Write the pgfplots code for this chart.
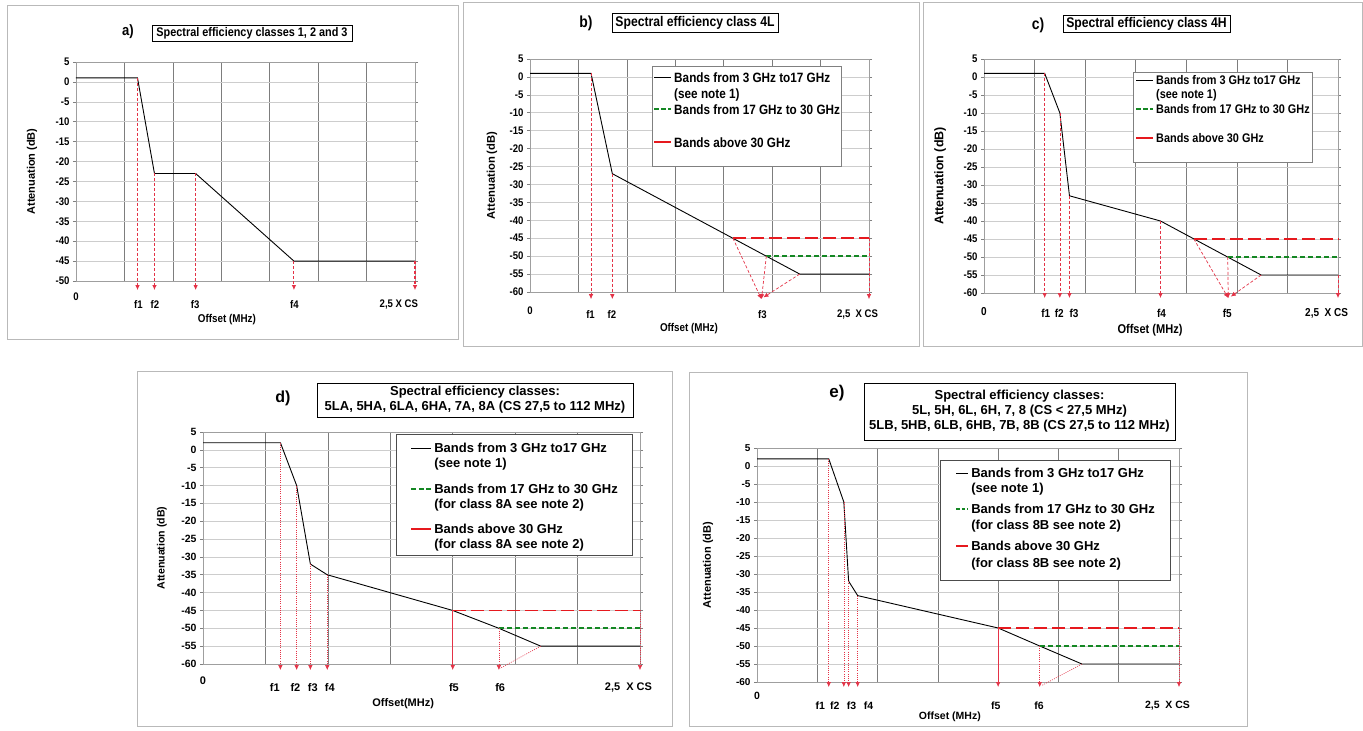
\documentclass[border=0pt]{standalone}
\usepackage{fontspec}
\setmainfont{Liberation Sans}
\newfontfamily\condf[FakeStretch=0.87]{Liberation Sans}
\usepackage{pgfplots}
\pgfplotsset{compat=1.18}
\usetikzlibrary{arrows.meta,shadows}

\definecolor{arrred}{RGB}{228,50,70}
\definecolor{lred}{RGB}{230,25,30}
\definecolor{lgreen}{RGB}{20,135,35}
\definecolor{vgrid}{RGB}{125,125,125}
\definecolor{hgrid}{RGB}{205,205,205}
\definecolor{frm}{RGB}{185,185,185}

\newcommand\limg[3]{\addlegendimage{legend image code/.code={\draw[#1] (0pt,#2)--(#3,#2);}}}
\newcommand\vsp[2]{\rule[-#2pt]{0pt}{\dimexpr#1pt+#2pt\relax}}

\pgfplotsset{
 panel/.style={scale only axis, clip=false, anchor=south west, xmin=0, xmax=7, ymax=5,
  axis line style={draw=gray!75, line width=0.6pt},
  minor xtick={1,2,3,4,5,6}, xminorgrids=true,
  minor x grid style={vgrid, line width=0.6pt},
  ymajorgrids=true, major y grid style={hgrid, line width=0.6pt},
  xtick style={draw=none}, minor tick length=0pt,
  ytick style={draw=gray, line width=0.6pt},
  tick align=outside, major tick length=3pt,
  /pgf/number format/assume math mode=true,
  xlabel style={anchor=center}, ylabel style={anchor=center},
  legend style={anchor=north west, fill=white, row sep=0pt, column sep=2pt, inner ysep=2pt,
    cells={anchor=base west}, nodes={inner sep=0pt, text depth=}},
 },
 curve/.style={black, line width=0.9pt},
 redh/.style={lred, line width=1.8pt, dash pattern=on 13pt off 5pt},
 greenh/.style={lgreen, line width=1.8pt, dash pattern=on 5pt off 3pt},
 arrA/.style={arrred, line width=1.1pt, dash pattern=on 3pt off 2pt, -{Latex[length=5pt,width=4.5pt]}},
 arrB/.style={arrred, line width=0.7pt, dash pattern=on 3pt off 2pt, -{Latex[length=5pt,width=4.5pt]}},
 arrD/.style={arrred, line width=0.6pt, dash pattern=on 1pt off 1.2pt, -{Latex[length=5pt,width=4.5pt]}},
 arrS/.style={arrred, line width=0.7pt, -{Latex[length=5pt,width=4.5pt]}},
}

\begin{document}
\begin{tikzpicture}[x=1pt,y=1pt]
\useasboundingbox (0,0) rectangle (1363,731);
\fill[white] (0,0) rectangle (1363,731);
% panel frames
\draw[frm, line width=1pt] (7,391) rectangle (458,725);
\draw[frm, line width=1pt] (463,384) rectangle (919,728);
\draw[frm, line width=1pt] (923,384) rectangle (1362,728);
\draw[frm, line width=1pt] (137,4) rectangle (672,359);
\draw[frm, line width=1pt] (689,4) rectangle (1247,358);

% ---------------- a)
\begin{axis}[panel, at={(76pt,450pt)}, width=339pt, height=219pt,
 ymin=-50, ytick={-50,-45,...,5},
 yticklabel style={font=\condf\bfseries\fontsize{11}{11}\selectfont},
 xtick={1.29,1.63,2.46,4.51,7},
 xticklabels={f1,f2,f3,f4,{\makebox[0pt][r]{2,5 X CS\kern-3pt}}},
 xticklabel style={anchor=center, yshift=-21pt, font=\condf\bfseries\fontsize{11}{11}\selectfont},
 extra x ticks={0}, extra x tick labels={0}, extra x tick style={xticklabel style={yshift=8pt}},
 xlabel={Offset (MHz)}, ylabel={Attenuation (dB)},
 xlabel style={at={(axis description cs:0.445,-0.174)}, font=\condf\bfseries\fontsize{11.3}{12}\selectfont},
 ylabel style={at={(axis description cs:-0.13,0.5)}, font=\bfseries\fontsize{11}{11}\selectfont},
]
\addplot[curve] coordinates {(0,1)(1.27,1)(1.62,-23)(2.47,-23)(4.5,-45)(7,-45)};
\addplot[arrA] coordinates {(1.27,1)(1.27,-52.3)};
\addplot[arrA] coordinates {(1.62,-23)(1.62,-52.3)};
\addplot[arrA] coordinates {(2.47,-23)(2.47,-52.3)};
\addplot[arrA] coordinates {(4.5,-45)(4.5,-52.3)};
\addplot[arrA] coordinates {(7,-45)(7,-52.3)};
\end{axis}

% ---------------- b)
\begin{axis}[panel, at={(530pt,439pt)}, width=339pt, height=233pt,
 ymin=-60, ytick={-60,-55,...,5},
 yticklabel style={font=\condf\bfseries\fontsize{11}{11}\selectfont},
 xtick={1.25,1.69,4.80,7},
 xticklabels={f1,f2,f3,{\makebox[0pt][r]{2,5\ \ X CS\kern-9pt}}},
 xticklabel style={anchor=center, yshift=-20pt, font=\condf\bfseries\fontsize{11}{11}\selectfont},
 extra x ticks={0}, extra x tick labels={0}, extra x tick style={xticklabel style={yshift=4pt}},
 xlabel={Offset (MHz)}, ylabel={Attenuation (dB)},
 xlabel style={at={(axis description cs:0.469,-0.159)}, font=\condf\bfseries\fontsize{11.3}{12}\selectfont},
 ylabel style={at={(axis description cs:-0.112,0.5)}, font=\bfseries\fontsize{11.2}{11}\selectfont},
 legend style={at={(axis description cs:0.360,0.970)}, draw=gray, inner xsep=1pt,
   font=\condf\bfseries\fontsize{13.5}{16}\selectfont},
]
\limg{black,line width=0.8pt}{4.8pt}{17pt}
\addlegendentry{\vsp{14}{3}Bands from 3 GHz to17 GHz}
\addlegendimage{empty legend}
\addlegendentry{\vsp{13}{3}(see note 1)}
\limg{lgreen,line width=2pt,dash pattern=on 4.5pt off 2.5pt}{4.8pt}{17pt}
\addlegendentry{\vsp{13}{3}Bands from 17 GHz to 30 GHz}
\limg{lred,line width=2pt}{4.8pt}{17pt}
\addlegendentry{\vsp{30}{17}Bands above 30 GHz}
\addplot[curve] coordinates {(0,1)(1.26,1)(1.70,-27)(5.57,-55)(7,-55)};
\addplot[redh] coordinates {(4.19,-45)(7,-45)};
\addplot[greenh] coordinates {(4.88,-50)(7,-50)};
\addplot[arrB] coordinates {(1.26,1)(1.26,-62)};
\addplot[arrB] coordinates {(1.70,-27)(1.70,-62)};
\addplot[arrB] coordinates {(4.19,-45)(4.78,-62)};
\addplot[arrB] coordinates {(4.88,-50)(4.78,-62)};
\addplot[arrB] coordinates {(5.57,-55)(4.82,-61.5)};
\addplot[arrB] coordinates {(7,-45)(7,-62)};
\end{axis}

% ---------------- c)
\begin{axis}[panel, at={(984pt,438pt)}, width=354pt, height=234pt,
 ymin=-60, ytick={-60,-55,...,5},
 yticklabel style={font=\condf\bfseries\fontsize{11}{11}\selectfont},
 xtick={1.22,1.49,1.78,3.51,4.81,7},
 xticklabels={f1,f2,f3,f4,f5,{\makebox[0pt][r]{2,5\ \ X CS\kern-10pt}}},
 xticklabel style={anchor=center, yshift=-17pt, font=\condf\bfseries\fontsize{11.5}{12}\selectfont},
 extra x ticks={0}, extra x tick labels={0}, extra x tick style={xticklabel style={yshift=1pt}},
 xlabel={Offset (MHz)}, ylabel={Attenuation (dB)},
 xlabel style={at={(axis description cs:0.469,-0.158)}, font=\condf\bfseries\fontsize{12.7}{13}\selectfont},
 ylabel style={at={(axis description cs:-0.124,0.5)}, font=\bfseries\fontsize{12.5}{12}\selectfont},
 legend style={at={(axis description cs:0.421,0.944)}, draw=gray, inner xsep=2pt,
   font=\condf\bfseries\fontsize{12.5}{15}\selectfont},
]
\limg{black,line width=0.8pt}{4.5pt}{17pt}
\addlegendentry{\vsp{10.5}{3}Bands from 3 GHz to17 GHz}
\addlegendimage{empty legend}
\addlegendentry{\vsp{11}{3}(see note 1)}
\limg{lgreen,line width=2pt,dash pattern=on 4.5pt off 2.5pt}{4.5pt}{17pt}
\addlegendentry{\vsp{12}{3}Bands from 17 GHz to 30 GHz}
\limg{lred,line width=2pt}{4.5pt}{17pt}
\addlegendentry{\vsp{26}{17.5}Bands above 30 GHz}
\addplot[curve] coordinates {(0,1)(1.20,1)(1.50,-10)(1.69,-33)(3.49,-40)(5.48,-55)(7,-55)};
\addplot[redh] coordinates {(4.15,-45)(7,-45)};
\addplot[greenh] coordinates {(4.82,-50)(7,-50)};
\addplot[arrB] coordinates {(1.20,1)(1.20,-61.4)};
\addplot[arrB] coordinates {(1.50,-10)(1.50,-61.4)};
\addplot[arrB] coordinates {(1.69,-33)(1.69,-61.4)};
\addplot[arrB] coordinates {(3.49,-40)(3.49,-61.4)};
\addplot[arrB] coordinates {(4.15,-45)(4.83,-61.4)};
\addplot[arrB] coordinates {(4.82,-50)(4.83,-61.4)};
\addplot[arrB] coordinates {(5.48,-55)(4.88,-61)};
\addplot[arrB] coordinates {(7,-55)(7,-61.4)};
\end{axis}

% ---------------- d)
\begin{axis}[panel, at={(203pt,67pt)}, width=437pt, height=232pt,
 ymin=-60, ytick={-60,-55,...,5},
 yticklabel style={font=\bfseries\fontsize{10.5}{11}\selectfont},
 xtick={1.15,1.48,1.76,2.03,4.02,4.76,7},
 xticklabels={f1,f2,f3,f4,f5,f6,{\makebox[0pt][r]{2,5\ \ X CS\kern-12pt}}},
 xticklabel style={anchor=center, yshift=-21pt, font=\bfseries\fontsize{11}{11}\selectfont},
 extra x ticks={0}, extra x tick labels={0}, extra x tick style={xticklabel style={yshift=7pt}},
 xlabel={Offset(MHz)}, ylabel={Attenuation (dB)},
 xlabel style={at={(axis description cs:0.458,-0.172)}, font=\bfseries\fontsize{11}{11}\selectfont},
 ylabel style={at={(axis description cs:-0.094,0.5)}, font=\bfseries\fontsize{10.6}{11}\selectfont},
 legend style={at={(axis description cs:0.442,0.991)}, draw=black!70, inner xsep=14pt,
   font=\bfseries\fontsize{13}{15}\selectfont},
]
\limg{black,line width=0.8pt}{4.5pt}{20pt}
\addlegendentry{\vsp{16.5}{3}Bands from 3 GHz to17 GHz}
\addlegendimage{empty legend}
\addlegendentry{\vsp{12}{3}(see note 1)}
\limg{lgreen,line width=2pt,dash pattern=on 5pt off 2.5pt}{4.5pt}{20pt}
\addlegendentry{\vsp{23}{3}Bands from 17 GHz to 30 GHz}
\addlegendimage{empty legend}
\addlegendentry{\vsp{12}{3}(for class 8A see note 2)}
\limg{lred,line width=2pt}{4.5pt}{20pt}
\addlegendentry{\vsp{22}{3}Bands above 30 GHz}
\addlegendimage{empty legend}
\addlegendentry{\vsp{12}{4.5}(for class 8A see note 2)}
\addplot[curve] coordinates {(0,2)(1.24,2)(1.50,-10)(1.72,-32)(1.99,-35)(4.0,-45)(4.74,-50)(5.41,-55)(7,-55)};
\addplot[redh] coordinates {(4.0,-45)(7,-45)};
\addplot[greenh] coordinates {(4.74,-50)(7,-50)};
\addplot[arrD] coordinates {(1.24,2)(1.24,-61.7)};
\addplot[arrD] coordinates {(1.50,-10)(1.50,-61.7)};
\addplot[arrD] coordinates {(1.72,-32)(1.72,-61.7)};
\addplot[arrD] coordinates {(1.99,-35)(1.99,-61.7)};
\addplot[arrS] coordinates {(4.0,-45)(4.0,-61.7)};
\addplot[arrD] coordinates {(4.74,-50)(4.74,-61.7)};
\addplot[arrred, line width=0.6pt, dash pattern=on 1pt off 1.2pt] coordinates {(5.41,-55)(4.76,-61.2)};
\addplot[arrD] coordinates {(7,-45)(7,-61.7)};
\end{axis}

% ---------------- e)
\begin{axis}[panel, at={(757pt,49pt)}, width=422pt, height=234pt,
 ymin=-60, ytick={-60,-55,...,5},
 yticklabel style={font=\bfseries\fontsize{10}{10}\selectfont},
 xtick={1.05,1.29,1.57,1.85,3.96,4.68,7},
 xticklabels={f1,f2,f3,f4,f5,f6,{\makebox[0pt][r]{2,5\ \ X CS\kern-11pt}}},
 xticklabel style={anchor=center, yshift=-21pt, font=\bfseries\fontsize{10.5}{11}\selectfont},
 extra x ticks={0}, extra x tick labels={0}, extra x tick style={xticklabel style={yshift=10pt}},
 xlabel={Offset (MHz)}, ylabel={Attenuation (dB)},
 xlabel style={at={(axis description cs:0.457,-0.150)}, font=\bfseries\fontsize{10.5}{11}\selectfont},
 ylabel style={at={(axis description cs:-0.116,0.5)}, font=\bfseries\fontsize{11}{11}\selectfont},
 legend style={at={(axis description cs:0.434,0.949)}, draw=black!70, inner xsep=15pt,
   font=\bfseries\fontsize{13}{15}\selectfont},
]
\limg{black,line width=0.8pt}{4.5pt}{12pt}
\addlegendentry{\vsp{15.5}{3}Bands from 3 GHz to17 GHz}
\addlegendimage{empty legend}
\addlegendentry{\vsp{12}{3}(see note 1)}
\limg{lgreen,line width=2pt,dash pattern=on 3.5pt off 2pt}{4.5pt}{12pt}
\addlegendentry{\vsp{18}{3}Bands from 17 GHz to 30 GHz}
\addlegendimage{empty legend}
\addlegendentry{\vsp{13}{3}(for class 8B see note 2)}
\limg{lred,line width=2pt}{4.5pt}{12pt}
\addlegendentry{\vsp{18}{3}Bands above 30 GHz}
\addlegendimage{empty legend}
\addlegendentry{\vsp{14}{10.5}(for class 8B see note 2)}
\addplot[curve] coordinates {(0,2)(1.19,2)(1.44,-10)(1.52,-32)(1.67,-36)(4.0,-45)(4.69,-50)(5.39,-55)(7,-55)};
\addplot[redh] coordinates {(4.0,-45)(7,-45)};
\addplot[greenh] coordinates {(4.69,-50)(7,-50)};
\addplot[arrD] coordinates {(1.19,2)(1.19,-61.4)};
\addplot[arrD] coordinates {(1.44,-10)(1.44,-61.4)};
\addplot[arrD] coordinates {(1.52,-32)(1.52,-61.4)};
\addplot[arrD] coordinates {(1.67,-36)(1.67,-61.4)};
\addplot[arrS] coordinates {(4.0,-45)(4.0,-61.4)};
\addplot[arrD] coordinates {(4.69,-50)(4.69,-61.4)};
\addplot[arrred, line width=0.6pt, dash pattern=on 1pt off 1.2pt] coordinates {(5.39,-55)(4.72,-61)};
\addplot[arrD] coordinates {(7,-45)(7,-61.4)};
\end{axis}

% titles
\tikzset{tbox/.style={draw=black, line width=0.6pt, fill=white, inner sep=1pt,
  drop shadow={shadow xshift=1.2pt, shadow yshift=-1.2pt, fill=black!65, opacity=1}}}
\node[font=\condf\bfseries\fontsize{15}{15}\selectfont] at (128,699) {a)};
\node[tbox, minimum width=200pt, minimum height=16pt, font=\condf\bfseries\fontsize{12.5}{13}\selectfont] at (252,698) {Spectral efficiency classes 1, 2 and 3};
\node[font=\condf\bfseries\fontsize{16}{16}\selectfont] at (586,708) {b)};
\node[tbox, minimum width=166pt, minimum height=19pt, font=\condf\bfseries\fontsize{14}{14}\selectfont] at (695,708.5) {Spectral efficiency class 4L};
\node[font=\condf\bfseries\fontsize{16}{16}\selectfont] at (1038,706) {c)};
\node[tbox, minimum width=167pt, minimum height=17pt, font=\condf\bfseries\fontsize{14}{14}\selectfont] at (1146.5,707.5) {Spectral efficiency class 4H};
\node[font=\bfseries\fontsize{16}{16}\selectfont] at (283,333) {d)};
\node[tbox, align=center, minimum width=316pt, minimum height=34pt, font=\bfseries\fontsize{13}{15}\selectfont] at (475,331) {Spectral efficiency classes:\\5LA, 5HA, 6LA, 6HA, 7A, 8A (CS 27,5 to 112 MHz)};
\node[font=\bfseries\fontsize{17}{17}\selectfont] at (837,338) {e)};
\node[tbox, align=center, minimum width=311pt, minimum height=57pt, font=\bfseries\fontsize{13}{15}\selectfont] at (1019.5,319.5) {Spectral efficiency classes:\\5L, 5H, 6L, 6H, 7, 8 (CS < 27,5 MHz)\\5LB, 5HB, 6LB, 6HB, 7B, 8B (CS 27,5 to 112 MHz)};
\end{tikzpicture}
\end{document}
